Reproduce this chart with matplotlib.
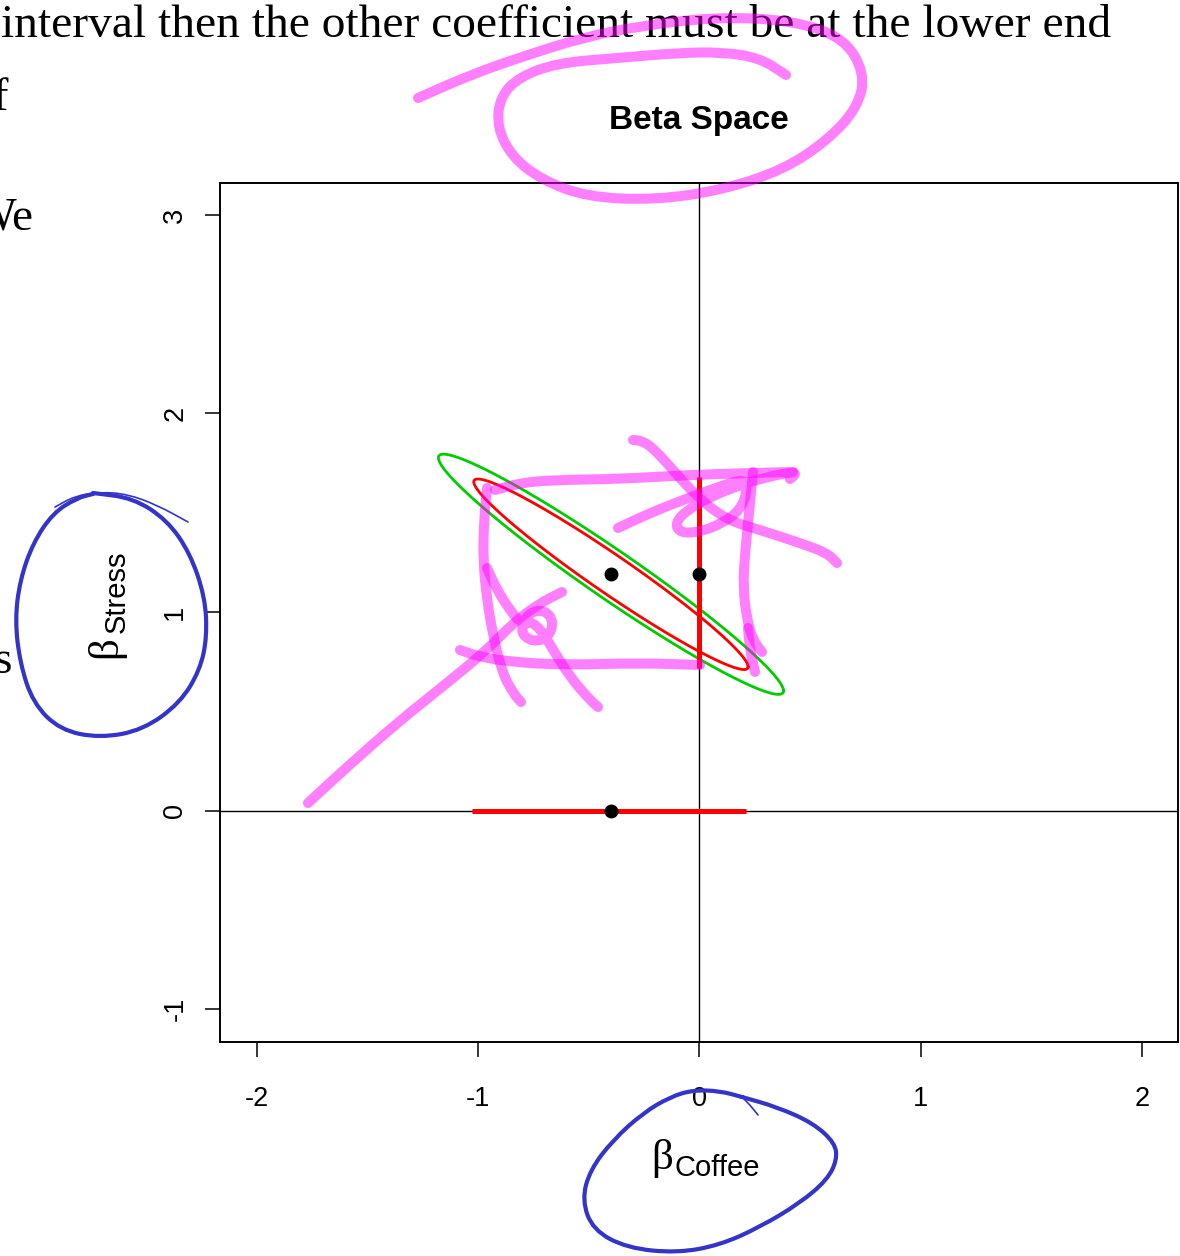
import matplotlib
matplotlib.use("Agg")
import matplotlib.pyplot as plt
from matplotlib.path import Path
from matplotlib.patches import PathPatch
import numpy as np

plt.rcParams['font.family'] = ['Liberation Sans', 'DejaVu Sans']

# estimates and intervals (beta space)
beta_hat = [-0.40, 1.19]
coffee_ci = [-1.03, 0.21]
stress_ci = [0.72, 1.68]
# joint regions: half widths of bounding box and correlation
red_half = [0.62, 0.48]
green_half = [0.78, 0.605]
rho = -0.97

xticks = [-2, -1, 0, 1, 2]
yticks = [-1, 0, 1, 2, 3]

# pen strokes drawn over the slide (pixel coords)
pink_strokes = [
    [(418, 98), (470, 75), (527, 55), (585, 37), (640, 26), (715, 17), (790, 20), (843, 37),
     (865, 73), (858, 107), (828, 140), (783, 170), (722, 190), (655, 200), (587, 197),
     (542, 180), (512, 157), (497, 127), (500, 97), (519, 77), (557, 63), (617, 58),
     (677, 53), (722, 52), (760, 58), (786, 75)],
    [(495, 490), (520, 483), (553, 480), (620, 479), (687, 475), (753, 473), (787, 472),
     (797, 473), (790, 479)],
    [(487, 488), (484, 520), (483, 560), (487, 600), (493, 635), (502, 672), (513, 693), (521, 702)],
    [(460, 650), (480, 657), (513, 662), (563, 665), (640, 663), (700, 665)],
    [(753, 472), (750, 503), (745, 553), (743, 587), (747, 620), (753, 640), (762, 652)],
    [(748, 628), (750, 650), (755, 672)],
    [(633, 440), (643, 441), (655, 450), (673, 470), (697, 497), (727, 520), (760, 530),
     (800, 543), (827, 553), (837, 563)],
    [(618, 528), (650, 513), (683, 500), (710, 490), (733, 482), (745, 480), (747, 493),
     (740, 510), (723, 523), (700, 532), (680, 533), (675, 523), (687, 510), (710, 497),
     (740, 485), (767, 477), (793, 472)],
    [(308, 803), (347, 767), (397, 723), (447, 683), (487, 650), (513, 623), (540, 603), (562, 592)],
    [(487, 568), (497, 590), (510, 610), (522, 625), (530, 612), (545, 610), (554, 622),
     (548, 638), (532, 642), (520, 632), (527, 620), (540, 628), (552, 648), (570, 677),
     (590, 700), (598, 707)],
]
blue_strokes = [
    [(93, 493), (133, 498), (167, 520), (190, 553), (205, 597), (207, 637), (200, 670),
     (180, 703), (143, 730), (100, 738), (60, 730), (33, 703), (20, 663), (15, 620),
     (20, 580), (33, 543), (53, 513), (77, 498), (93, 494)],
    [(742, 1097), (777, 1107), (813, 1123), (835, 1143), (837, 1160), (827, 1180), (800, 1203),
     (760, 1227), (720, 1245), (677, 1253), (627, 1248), (593, 1230), (582, 1200), (590, 1170),
     (613, 1140), (643, 1113), (670, 1097), (693, 1090), (720, 1091), (742, 1097)],
]
blue_thin = [
    [(55, 507), (75, 496), (100, 492), (127, 494), (157, 505), (188, 522)],
    [(742, 1097), (750, 1105), (758, 1115)],
]


def stroke_path(pts):
    # quadratic curves through the midpoints, pen-like
    pts = np.asarray(pts, dtype=float)
    verts = [pts[0], (pts[0] + pts[1]) / 2]
    codes = [Path.MOVETO, Path.LINETO]
    for i in range(1, len(pts) - 1):
        verts += [pts[i], (pts[i] + pts[i + 1]) / 2]
        codes += [Path.CURVE3, Path.CURVE3]
    verts.append(pts[-1])
    codes.append(Path.LINETO)
    return Path(verts, codes)


W, H = 1180, 1256
fig = plt.figure(figsize=(11.8, 12.56), dpi=100)
ax = fig.add_axes([220 / W, 1 - 1042 / H, 958 / W, 859 / H])

ax.set_xlim(-2.167, 2.163)
ax.set_ylim(-1.166, 3.161)
ax.axhline(0, color='black', lw=1.0, zorder=1)
ax.axvline(0, color='black', lw=1.0, zorder=1)

t = np.linspace(0, 2 * np.pi, 300)
for half, col in [(green_half, '#00cd00'), (red_half, '#ff0000')]:
    ex = beta_hat[0] + half[0] * np.cos(t)
    ey = beta_hat[1] + half[1] * (rho * np.cos(t) + np.sqrt(1 - rho ** 2) * np.sin(t))
    ax.plot(ex, ey, color=col, lw=2.0, zorder=2)

ax.plot(coffee_ci, [0, 0], color='#ff0000', lw=3.6, solid_capstyle='butt', zorder=3)
ax.plot([0, 0], stress_ci, color='#ff0000', lw=3.6, solid_capstyle='butt', zorder=3)
ax.plot([beta_hat[0], 0, beta_hat[0]], [beta_hat[1], beta_hat[1], 0], 'o',
        color='black', ms=9, zorder=4)

ax.set_xticks(xticks)
ax.set_yticks(yticks)
ax.set_xticklabels([str(v) for v in xticks])
ax.set_yticklabels([str(v) for v in yticks], rotation=90, va='center')
ax.tick_params(axis='both', direction='out', length=10.8, width=1.1, labelsize=19.5)
ax.tick_params(axis='x', pad=21)
ax.tick_params(axis='y', pad=12)
for s in ax.spines.values():
    s.set_linewidth(1.4)

# overlay in pixel coordinates
ov = fig.add_axes([0, 0, 1, 1], zorder=5)
ov.set_xlim(0, W)
ov.set_ylim(H, 0)
ov.axis('off')
ov.patch.set_alpha(0)

serif = ['Liberation Serif', 'DejaVu Serif']
ov.text(1, 37, 'interval then the other coefficient must be at the lower end',
        family=serif, fontsize=34.2, ha='left', va='baseline', zorder=1)
ov.text(9, 110, 'of', family=serif, fontsize=34, ha='right', va='baseline', zorder=1)
ov.text(34, 229, 'We', family=serif, fontsize=34, ha='right', va='baseline', zorder=1)
ov.text(13, 673, 'is', family=serif, fontsize=34, ha='right', va='baseline', zorder=1)

ov.text(699, 129, 'Beta Space', fontsize=24, fontweight='bold', ha='center', va='baseline', zorder=1)

ov.text(651, 1169, 'β', family=serif, fontsize=31, ha='left', va='baseline', zorder=1)
ov.text(675, 1176, 'Coffee', fontsize=21, ha='left', va='baseline', zorder=1)
ov.text(116, 658, 'β', family=serif, fontsize=31, rotation=90, rotation_mode='anchor',
        ha='left', va='baseline', zorder=1)
ov.text(125, 633, 'Stress', fontsize=21, rotation=90, rotation_mode='anchor',
        ha='left', va='baseline', zorder=1)

for st in pink_strokes:
    ov.add_patch(PathPatch(stroke_path(st), fill=False, edgecolor='#ff00ff', alpha=0.5,
                           lw=7.2, capstyle='round', joinstyle='round', zorder=3))
for st in blue_strokes:
    ov.add_patch(PathPatch(stroke_path(st), fill=False, edgecolor='#3434c8',
                           lw=3.0, capstyle='round', joinstyle='round', zorder=3))
for st in blue_thin:
    ov.add_patch(PathPatch(stroke_path(st), fill=False, edgecolor='#3434c8',
                           lw=1.2, capstyle='round', zorder=3))

fig.savefig('out.png', dpi=100)
